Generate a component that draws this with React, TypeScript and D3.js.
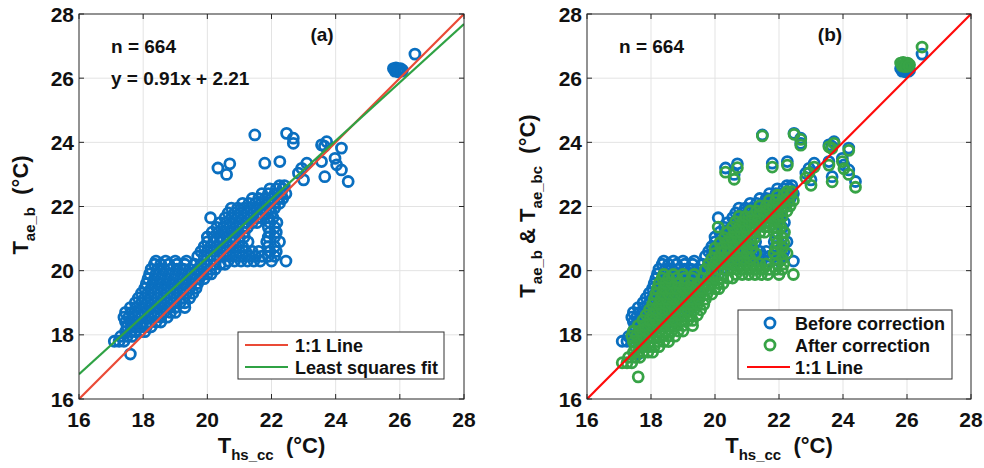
import React from 'react';
import * as d3 from 'd3';

// ---------- data ----------
const tickValues = [16, 18, 20, 22, 24, 26, 28];
const fitSlope = 0.91;
const fitIntercept = 2.21;
const sampleCount = 664;

// dense cluster, grouped by row of T_ae_b (before) value
const denseRowY = [17.8, 17.95, 18.1, 18.25, 18.4, 18.55, 18.7, 18.85, 19.0, 19.15, 19.3, 19.45, 19.6, 19.75, 19.9, 20.05, 20.2, 20.3, 20.45, 20.6, 20.75, 20.9, 21.05, 21.2, 21.35, 21.5, 21.65, 21.8, 21.95, 22.1, 22.25, 22.4, 22.55, 22.65];
// same rows after correction (T_ae_bc)
const denseRowYCorrected = [17.13, 17.3, 17.46, 17.63, 17.79, 17.96, 18.12, 18.29, 18.45, 18.62, 18.78, 18.95, 19.11, 19.27, 19.44, 19.6, 19.77, 19.88, 20.04, 20.21, 20.37, 20.54, 20.7, 20.87, 21.03, 21.2, 21.36, 21.53, 21.69, 21.86, 22.02, 22.19, 22.35, 22.46];
// T_hs_cc values of each row
const denseRowX = [
  [17.1, 17.25, 17.4],
  [17.3, 17.5, 17.65],
  [17.45, 17.6, 17.75, 17.9, 18.05],
  [17.5, 17.65, 17.8, 17.95, 18.1, 18.25],
  [17.45, 17.6, 17.8, 18.0, 18.2, 18.4, 18.55],
  [17.4, 17.55, 17.75, 17.95, 18.15, 18.35, 18.55, 18.75],
  [17.45, 17.65, 17.85, 18.05, 18.25, 18.45, 18.65, 18.85, 19.0],
  [17.6, 17.8, 18.0, 18.2, 18.4, 18.6, 18.8, 19.0, 19.3],
  [17.75, 17.95, 18.15, 18.35, 18.55, 18.75, 18.95, 19.15, 19.3],
  [17.85, 18.05, 18.25, 18.45, 18.65, 18.85, 19.05, 19.25, 19.45],
  [17.95, 18.15, 18.35, 18.55, 18.75, 18.95, 19.15, 19.35, 19.55],
  [18.05, 18.25, 18.45, 18.65, 18.85, 19.05, 19.25, 19.45, 19.65],
  [18.1, 18.3, 18.5, 18.7, 18.9, 19.1, 19.3, 19.5, 19.7],
  [18.15, 18.35, 18.55, 18.75, 18.95, 19.15, 19.35, 19.55, 19.75, 19.9],
  [18.2, 18.4, 18.6, 18.8, 19.0, 19.2, 19.4, 19.6, 19.8, 20.0, 20.12],
  [18.25, 18.45, 18.65, 18.85, 19.05, 19.25, 19.45, 19.7, 19.9, 20.1, 20.25],
  [18.35, 18.55, 18.8, 19.05, 19.3, 19.6, 19.8, 20.0, 20.2, 20.4, 20.55],
  [18.4, 18.7, 19.0, 19.35, 20.65, 20.85, 21.05, 21.25, 21.45, 21.65, 22.0, 22.45],
  [19.7, 19.9, 20.1, 20.3, 20.5, 20.7, 20.9, 21.1, 21.3, 21.5, 21.7, 21.9, 22.1],
  [19.8, 20.0, 20.2, 20.4, 20.6, 20.8, 21.0, 21.2, 21.4, 21.6, 21.95, 22.15],
  [19.9, 20.1, 20.3, 20.5, 20.7, 20.9, 21.1, 21.9, 22.1],
  [20.0, 20.2, 20.4, 20.6, 20.8, 21.0, 21.27, 21.85, 22.25],
  [20.0, 20.2, 20.4, 20.6, 20.8, 21.0, 21.15, 21.9, 22.1],
  [20.15, 20.35, 20.55, 20.75, 20.95, 21.15, 21.95, 22.15],
  [20.3, 20.5, 20.7, 20.9, 21.1, 21.25, 21.9, 22.1],
  [20.4, 20.6, 20.8, 21.0, 21.2, 21.4, 21.55, 21.95, 22.17],
  [20.1, 20.55, 20.75, 20.95, 21.15, 21.35, 21.55, 21.7, 21.9, 22.05],
  [20.65, 20.85, 21.05, 21.25, 21.45, 21.65, 21.85, 22.0],
  [20.75, 20.95, 21.15, 21.35, 21.55, 21.75, 21.95, 22.1],
  [21.1, 21.3, 21.5, 21.7, 21.9, 22.1, 22.25],
  [21.4, 21.6, 21.8, 22.0, 22.2, 22.35],
  [21.7, 21.9, 22.1, 22.3, 22.45],
  [21.95, 22.15, 22.35],
  [22.25, 22.4],
];

// scattered points
const outlierX = [17.6, 21.48, 22.47, 22.68, 22.68, 20.33, 20.7, 20.6, 21.79, 22.26, 22.84, 22.94, 23.1, 23.0, 23.56, 23.72, 23.65, 24.18, 23.56, 23.98, 24.03, 24.18, 24.39, 23.66, 26.47, 25.8, 25.88, 25.95, 26.02, 26.08, 25.85, 25.95, 26.05];
const outlierY = [17.4, 24.23, 24.28, 24.13, 23.97, 23.2, 23.33, 23.0, 23.35, 23.4, 23.04, 23.19, 23.35, 22.83, 23.92, 24.02, 23.88, 23.82, 23.4, 23.5, 23.3, 23.14, 22.78, 22.93, 26.75, 26.3, 26.32, 26.28, 26.3, 26.25, 26.22, 26.2, 26.22];
const outlierYCorrected = [16.69, 24.2, 24.25, 24.09, 23.91, 23.07, 23.21, 22.85, 23.23, 23.29, 22.89, 23.05, 23.23, 22.66, 23.86, 23.97, 23.81, 23.75, 23.29, 23.4, 23.18, 23.0, 22.6, 22.77, 26.97, 26.47, 26.49, 26.45, 26.47, 26.42, 26.38, 26.36, 26.38];

// ---------- styles ----------
const BLUE = '#0a6fc0';
const GREEN = '#37a346';
const RED_A = '#ea4a36';
const GREEN_LINE = '#2fa244';
const RED_B = '#ff0a0a';
const FONT = '"Liberation Sans", Arial, Helvetica, sans-serif';
const MARKER_R = 5;
const MARKER_W = 2.8;

type Pt = [number, number];

const beforePts: Pt[] = [
  ...denseRowX.flatMap((xs, i) => xs.map((x) => [x, denseRowY[i]] as Pt)),
  ...outlierX.map((x, i) => [x, outlierY[i]] as Pt),
];
const afterPts: Pt[] = [
  ...denseRowX.flatMap((xs, i) => xs.map((x) => [x, denseRowYCorrected[i]] as Pt)),
  ...outlierX.map((x, i) => [x, outlierYCorrected[i]] as Pt),
];

const TOP = 14;
const BOTTOM = 399;

function Axes({ left, right, id }: { left: number; right: number; id: string }) {
  const x = d3.scaleLinear().domain([16, 28]).range([left, right]);
  const y = d3.scaleLinear().domain([16, 28]).range([BOTTOM, TOP]);
  return (
    <g>
      <rect x={left} y={TOP} width={right - left} height={BOTTOM - TOP} fill="#fff" />
      {tickValues.slice(1, -1).map((t) => (
        <g key={'g' + t}>
          <line x1={x(t)} x2={x(t)} y1={TOP} y2={BOTTOM} stroke="#e3e3e3" strokeWidth={1} />
          <line x1={left} x2={right} y1={y(t)} y2={y(t)} stroke="#e3e3e3" strokeWidth={1} />
        </g>
      ))}
      <defs>
        <clipPath id={id}>
          <rect x={left} y={TOP} width={right - left} height={BOTTOM - TOP} />
        </clipPath>
      </defs>
    </g>
  );
}

function Frame({ left, right }: { left: number; right: number }) {
  const x = d3.scaleLinear().domain([16, 28]).range([left, right]);
  const y = d3.scaleLinear().domain([16, 28]).range([BOTTOM, TOP]);
  const tl = 5;
  return (
    <g>
      {tickValues.map((t) => (
        <g key={'t' + t} stroke="#262626" strokeWidth={1}>
          <line x1={x(t)} x2={x(t)} y1={BOTTOM} y2={BOTTOM - tl} />
          <line x1={x(t)} x2={x(t)} y1={TOP} y2={TOP + tl} />
          <line x1={left} x2={left + tl} y1={y(t)} y2={y(t)} />
          <line x1={right} x2={right - tl} y1={y(t)} y2={y(t)} />
        </g>
      ))}
      <rect x={left} y={TOP} width={right - left} height={BOTTOM - TOP} fill="none" stroke="#262626" strokeWidth={1} />
      {tickValues.map((t) => (
        <text key={'xl' + t} x={x(t)} y={427} textAnchor="middle" fontSize={21} fontWeight="bold" fontFamily={FONT} fill="#111">
          {t}
        </text>
      ))}
      {tickValues.map((t) => (
        <text key={'yl' + t} x={left - 5} y={y(t)} dy="0.36em" textAnchor="end" fontSize={21} fontWeight="bold" fontFamily={FONT} fill="#111">
          {t}
        </text>
      ))}
      <text x={(left + right) / 2} y={453} textAnchor="middle" fontWeight="bold" fontFamily={FONT} fill="#111">
        <tspan fontSize={22}>T</tspan>
        <tspan fontSize={15} dy={7}>hs_cc</tspan>
        <tspan fontSize={22} dy={-7}>{'\u00a0\u00a0(°C)'}</tspan>
      </text>
    </g>
  );
}

function Circles({ pts, left, right, color, clip }: { pts: Pt[]; left: number; right: number; color: string; clip: string }) {
  const x = d3.scaleLinear().domain([16, 28]).range([left, right]);
  const y = d3.scaleLinear().domain([16, 28]).range([BOTTOM, TOP]);
  return (
    <g clipPath={`url(#${clip})`}>
      {pts.map((p, i) => (
        <circle key={i} cx={x(p[0])} cy={y(p[1])} r={MARKER_R} fill="none" stroke={color} strokeWidth={MARKER_W} />
      ))}
    </g>
  );
}

function LineSeg({ left, right, f, color, clip }: { left: number; right: number; f: (v: number) => number; color: string; clip: string }) {
  const x = d3.scaleLinear().domain([16, 28]).range([left, right]);
  const y = d3.scaleLinear().domain([16, 28]).range([BOTTOM, TOP]);
  const line = d3.line<number>().x((v) => x(v)).y((v) => y(f(v)));
  return <path d={line([16, 28]) || ''} stroke={color} strokeWidth={2.2} fill="none" clipPath={`url(#${clip})`} />;
}

export default function App() {
  const aL = 79, aR = 464;
  const bL = 587, bR = 971;
  const fit = (v: number) => fitSlope * v + fitIntercept;
  const ident = (v: number) => v;
  return (
    <svg width={984} height={468} style={{ position: 'absolute', left: 0, top: 0, background: '#fff' }}>
      <rect x={0} y={0} width={984} height={468} fill="#fff" />
      {/* Panel (a) */}
      <Axes left={aL} right={aR} id="clipA" />
      <Circles pts={beforePts} left={aL} right={aR} color={BLUE} clip="clipA" />
      <LineSeg left={aL} right={aR} f={ident} color={RED_A} clip="clipA" />
      <LineSeg left={aL} right={aR} f={fit} color={GREEN_LINE} clip="clipA" />
      <Frame left={aL} right={aR} />
      <g fontFamily={FONT} fontWeight="bold" fill="#111" fontSize={19}>
        <text x={111} y={53}>{`n = ${sampleCount}`}</text>
        <text x={111} y={85}>{`y = ${fitSlope}x + ${fitIntercept}`}</text>
        <text x={322} y={41} textAnchor="middle">(a)</text>
      </g>
      <text transform="translate(28,205) rotate(-90)" textAnchor="middle" fontWeight="bold" fontFamily={FONT} fill="#111">
        <tspan fontSize={22}>T</tspan>
        <tspan fontSize={15} dy={7}>ae_b</tspan>
        <tspan fontSize={22} dy={-7}>{'\u00a0\u00a0(°C)'}</tspan>
      </text>
      <g>
        <rect x={238} y={332} width={206} height={47} fill="#fff" stroke="#333" strokeWidth={1} />
        <line x1={245} x2={288} y1={345} y2={345} stroke={RED_A} strokeWidth={2.2} />
        <line x1={245} x2={288} y1={367} y2={367} stroke={GREEN_LINE} strokeWidth={2.2} />
        <text x={295} y={351.5} fontSize={18} fontWeight="bold" fontFamily={FONT} fill="#111">1:1 Line</text>
        <text x={295} y={373.5} fontSize={18} fontWeight="bold" fontFamily={FONT} fill="#111">Least squares fit</text>
      </g>

      {/* Panel (b) */}
      <Axes left={bL} right={bR} id="clipB" />
      <Circles pts={beforePts} left={bL} right={bR} color={BLUE} clip="clipB" />
      <Circles pts={afterPts} left={bL} right={bR} color={GREEN} clip="clipB" />
      <LineSeg left={bL} right={bR} f={ident} color={RED_B} clip="clipB" />
      <Frame left={bL} right={bR} />
      <g fontFamily={FONT} fontWeight="bold" fill="#111" fontSize={19}>
        <text x={619} y={53}>{`n = ${sampleCount}`}</text>
        <text x={830} y={41} textAnchor="middle">(b)</text>
      </g>
      <text transform="translate(535,206) rotate(-90)" textAnchor="middle" fontWeight="bold" fontFamily={FONT} fill="#111">
        <tspan fontSize={22}>T</tspan>
        <tspan fontSize={15} dy={7}>ae_b</tspan>
        <tspan fontSize={22} dy={-7}>{'\u00a0& T'}</tspan>
        <tspan fontSize={15} dy={7}>ae_bc</tspan>
        <tspan fontSize={22} dy={-7}>{'\u00a0\u00a0(°C)'}</tspan>
      </text>
      <g>
        <rect x={738} y={310} width={214} height={69} fill="#fff" stroke="#333" strokeWidth={1} />
        <circle cx={770} cy={323} r={MARKER_R} fill="none" stroke={BLUE} strokeWidth={MARKER_W} />
        <circle cx={770} cy={345} r={MARKER_R} fill="none" stroke={GREEN} strokeWidth={MARKER_W} />
        <line x1={747} x2={790} y1={367} y2={367} stroke={RED_B} strokeWidth={2.2} />
        <text x={795} y={329.5} fontSize={18} fontWeight="bold" fontFamily={FONT} fill="#111">Before correction</text>
        <text x={795} y={351.5} fontSize={18} fontWeight="bold" fontFamily={FONT} fill="#111">After correction</text>
        <text x={795} y={373.5} fontSize={18} fontWeight="bold" fontFamily={FONT} fill="#111">1:1 Line</text>
      </g>
    </svg>
  );
}
